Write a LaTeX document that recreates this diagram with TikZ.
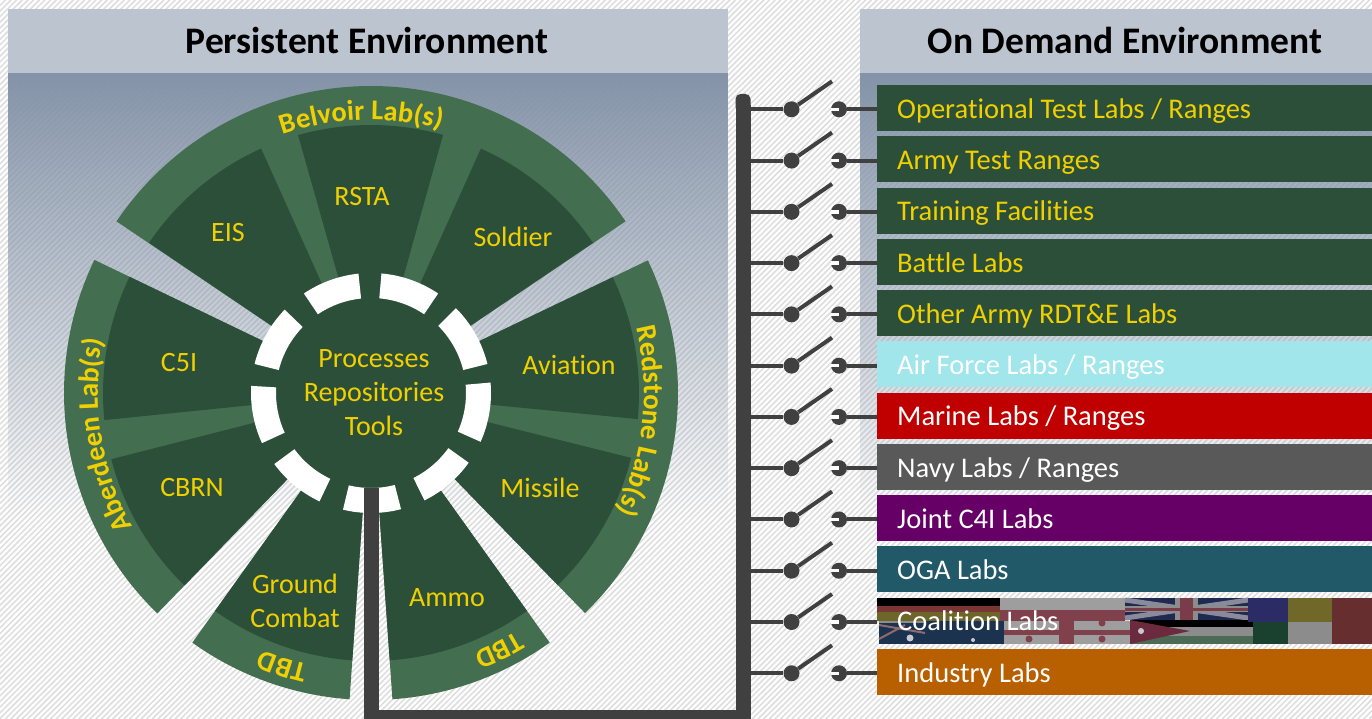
\documentclass[tikz,border=0pt]{standalone}
\usepackage{fontspec}
\setmainfont[Ligatures=CommonOff]{Carlito}
\usetikzlibrary{fadings,decorations.text,calc}
\definecolor{panelblue}{HTML}{8493A8}
\definecolor{headgray}{HTML}{BCC4CF}
\definecolor{hatchgray}{HTML}{DDDDDD}
\definecolor{darkgreen}{HTML}{2C4F39}
\definecolor{lightgreen}{HTML}{436F50}
\definecolor{labyellow}{HTML}{F0D000}
\definecolor{wirecol}{HTML}{404040}
\definecolor{barair}{HTML}{A0E6EA}
\definecolor{barmarine}{HTML}{C00000}
\definecolor{barnavy}{HTML}{595959}
\definecolor{barjoint}{HTML}{660066}
\definecolor{baroga}{HTML}{215968}
\definecolor{barind}{HTML}{B85F00}
\definecolor{fred}{HTML}{7A3535}
\definecolor{fgold}{HTML}{6E6528}
\definecolor{fnavy}{HTML}{1C3350}
\definecolor{fgray}{HTML}{8C8C8C}
\definecolor{fgrayb}{HTML}{9E9E9E}
\definecolor{fpink}{HTML}{80404C}
\definecolor{fuknavy}{HTML}{1E2A50}
\definecolor{fukdiag}{HTML}{8A8A9A}
\definecolor{fukred}{HTML}{7A3C48}
\definecolor{fjgreen}{HTML}{4C6B55}
\definecolor{fjred}{HTML}{6C2A3E}
\definecolor{fblue}{HTML}{2B2B66}
\definecolor{fdgreen}{HTML}{1A4030}
\definecolor{folive}{HTML}{706828}
\definecolor{fbrown}{HTML}{662E2E}
\definecolor{fstripe}{HTML}{8F6A70}
\definecolor{fstar}{HTML}{C8C8D0}
\tikzfading[name=panelfade, top color=transparent!0, bottom color=transparent!100]
\tikzset{
  wiretx/.style={font=\fontsize{28}{34}\selectfont, text=labyellow, align=center, inner sep=0pt},
  headtx/.style={font=\fontsize{37.5}{40}\selectfont\bfseries, text=black, inner sep=0pt},
  barbox/.style={anchor=west, minimum width=495, minimum height=46, inner xsep=20, inner ysep=0,
     text width=475, align=flush left, text height=22.5, text depth=2, font=\fontsize{28.5}{30}\selectfont},
  wirepath/.style={draw=wirecol, line width=4},
  swdot/.style={circle, fill=wirecol, minimum size=16, inner sep=0pt},
  busline/.style={draw=wirecol, line width=15, line join=miter},
  curvlab/.style={decorate, decoration={text along path, text align=center,
     text={|\fontsize{28.5}{30}\selectfont\bfseries\color{labyellow}|#1}}}
}
\newcommand\wedgefill[4]{\fill[#1] (0,0) -- (#2:#4) arc[start angle=#2, end angle=#3, radius=#4] -- cycle;}
\newcommand\ringpiece[2]{\fill[white] (#1:95) -- (#1:120) arc[start angle=#1, end angle=#2, radius=120] -- (#2:95) arc[start angle=#2, end angle=#1, radius=95] -- cycle;}
\newcommand\arclab[4]{\path[curvlab={#1}] (#2:#4) arc[start angle=#2, end angle=#3, radius=#4];}
\begin{document}
\begin{tikzpicture}[x=1pt,y=1pt]
\useasboundingbox (0,0) rectangle (1372,-719);
\begin{scope}
\clip (0,0) rectangle (1372,-719);
\fill[white] (0,0) rectangle (1372,-719);
\foreach \k in {0,...,372} {
  \draw[hatchgray, line width=1.5] ({-725+5.66*\k},-719) -- ++(725,725);
}
% panels
\fill[panelblue, path fading=panelfade] (8,-73) rectangle (728,-518);
\fill[panelblue, path fading=panelfade] (860,-73) rectangle (1372,-518);
\fill[headgray] (8,-9) rectangle (728,-73);
\fill[headgray] (860,-9) rectangle (1372,-73);
\node[headtx] (tleft) at (367,-40) {Persistent Environment};
\node[headtx] (tright) at (1125,-40) {On Demand Environment};
% wheel
\begin{scope}[shift={(371,-393)}]
  \wedgefill{lightgreen}{34}{146}{307}
  \wedgefill{lightgreen}{154.3}{225.9}{307}
  \wedgefill{lightgreen}{-45.8}{25.6}{307}
  \wedgefill{lightgreen}{234.4}{266}{307}
  \wedgefill{lightgreen}{274}{305.6}{307}
  \wedgefill{darkgreen}{114.2}{145.9}{268}
  \wedgefill{darkgreen}{74.4}{105.8}{268}
  \wedgefill{darkgreen}{34.1}{65.8}{268}
  \wedgefill{darkgreen}{154.3}{185.8}{268}
  \wedgefill{darkgreen}{194.3}{225.9}{268}
  \wedgefill{darkgreen}{-5.6}{25.6}{268}
  \wedgefill{darkgreen}{-45.8}{-14}{268}
  \wedgefill{darkgreen}{234.4}{266}{268}
  \wedgefill{darkgreen}{274}{305.6}{268}
  \node[circle, fill=darkgreen, minimum size=200, inner sep=0pt] (hub) at (0,0) {};
  \ringpiece{96}{124}
  \ringpiece{56}{85}
  \ringpiece{14}{45}
  \ringpiece{-24}{5}
  \ringpiece{-63.5}{-35.5}
  \ringpiece{-103.5}{-75.5}
  \ringpiece{216.3}{244.6}
  \ringpiece{176.6}{204.7}
  \ringpiece{136}{166}
  \arclab{Belvoir Lab(s)}{125}{59}{273}
  \arclab{Redstone Lab(s)}{30}{-42}{273}
  \arclab{Aberdeen Lab(s)}{225}{153}{273}
  \arclab{TBD}{265}{239}{279}
  \arclab{TBD}{310}{283}{279}
\end{scope}
\node[wiretx] (rsta) at (362,-197) {RSTA};
\node[wiretx] (eis) at (228,-233) {EIS};
\node[wiretx] (sold) at (513,-237) {Soldier};
\node[wiretx] (cfive) at (179,-363) {C5I};
\node[wiretx] (cbrn) at (192,-488) {CBRN};
\node[wiretx] (avi) at (569,-365) {Aviation};
\node[wiretx] (miss) at (540,-488) {Missile};
\node[wiretx] (grnd) at (295,-601) {Ground\\Combat};
\node[wiretx] (ammo) at (447,-598) {Ammo};
\node[wiretx] (core) at (374,-393) {Processes\\Repositories\\Tools};
% flags
\fill[black] (877,-598) rectangle (1002,-606);
\fill[fred] (877,-606) rectangle (1002,-612);
\fill[fgold] (877,-612) rectangle (1002,-621);
\fill[fnavy] (879,-621) rectangle (1004,-644);
\fill[fgray] (879,-621) rectangle (925,-623);
\draw[fstripe, line width=2] (879,-625) -- (925,-633);
\draw[fstripe, line width=2] (879,-639) -- (905,-625);
\fill[fstar] (910,-638) circle (3.5);
\fill[fstar] (973,-640) circle (2);
\fill[fgrayb] (1000,-598) rectangle (1125,-610);
\fill[fpink] (1000,-610) rectangle (1125,-621);
\fill[fgrayb] (1004,-621) rectangle (1130,-644);
\fill[fpink] (1059,-621) rectangle (1074,-644);
\fill[fpink] (1004,-630) rectangle (1130,-635);
\fill[fpink] (1102,-623) circle (3.5);
\fill[fpink] (1029,-639) circle (3.5);
\fill[fpink] (1102,-639) circle (3.5);
\fill[fuknavy] (1125,-598) rectangle (1248,-620);
\draw[fukdiag, line width=5] (1125,-600) -- (1248,-618);
\draw[fukdiag, line width=5] (1125,-618) -- (1248,-600);
\fill[fgray] (1125,-606) rectangle (1248,-612);
\fill[fgray] (1175,-598) rectangle (1198,-620);
\fill[fukred] (1125,-608) rectangle (1248,-611);
\fill[fukred] (1180,-598) rectangle (1193,-620);
\fill[black] (1130,-620) rectangle (1253,-627);
\fill[fgray] (1130,-627) rectangle (1253,-636);
\fill[fjgreen] (1130,-636) rectangle (1253,-644);
\fill[fjred] (1130,-620) -- (1190,-631) -- (1130,-644) -- cycle;
\fill[fstar] (1141,-631) circle (3);
\fill[fblue] (1248,-598) rectangle (1288,-622);
\fill[fdgreen] (1253,-622) rectangle (1288,-644);
\fill[folive] (1288,-598) rectangle (1332,-622);
\fill[fgray] (1288,-622) rectangle (1332,-644);
\fill[fbrown] (1332,-598) rectangle (1372,-644);
% bars
\def\pit{51.27}
\foreach \i/\lab/\fillc/\txt in {
  0/Operational Test Labs \slash{} Ranges/darkgreen/labyellow,
  1/Army Test Ranges/darkgreen/labyellow,
  2/Training Facilities/darkgreen/labyellow,
  3/Battle Labs/darkgreen/labyellow,
  4/Other Army RDT\&E Labs/darkgreen/labyellow,
  5/Air Force Labs \slash{} Ranges/barair/white,
  6/Marine Labs \slash{} Ranges/barmarine/white,
  7/Navy Labs \slash{} Ranges/barnavy/white,
  8/Joint C4I Labs/barjoint/white,
  9/OGA Labs/baroga/white,
  10/Coalition Labs/none/white,
  11/Industry Labs/barind/white} {
  \pgfmathsetmacro\yy{-(108+\pit*\i)}
  \pgfmathsetmacro\yw{\yy-1.3}
  \node[barbox, fill=\fillc, text=\txt] (bar\i) at (877,\yy) {\lab};
  \coordinate (tap\i) at (751,\yw);
  \coordinate (arm\i) at (832,\yw+28);
  \node[swdot] (piv\i) at (791.5,\yw) {};
  \node[swdot] (con\i) at (839,\yw) {};
  \draw[wirepath] (tap\i) -- (piv\i);
  \draw[wirepath] (piv\i) -- (arm\i);
  \draw[wirepath] (con\i) -- (bar\i.west |- con\i);
  \fill[white] ($(con\i)+(-8.5,1.7)$) rectangle ($(con\i)+(0,-1.7)$);
}
% bus
\coordinate (busa) at (371,-488);
\coordinate (busb) at (371,-717);
\coordinate (busc) at (743,-717);
\coordinate (busd) at (743,-105);
\draw[busline] (busa) -- (busb) -- (busc) -- (busd);
\fill[wirecol, rounded corners=5] (735.5,-94) rectangle (750.5,-112);
\end{scope}
\end{tikzpicture}
\end{document}
